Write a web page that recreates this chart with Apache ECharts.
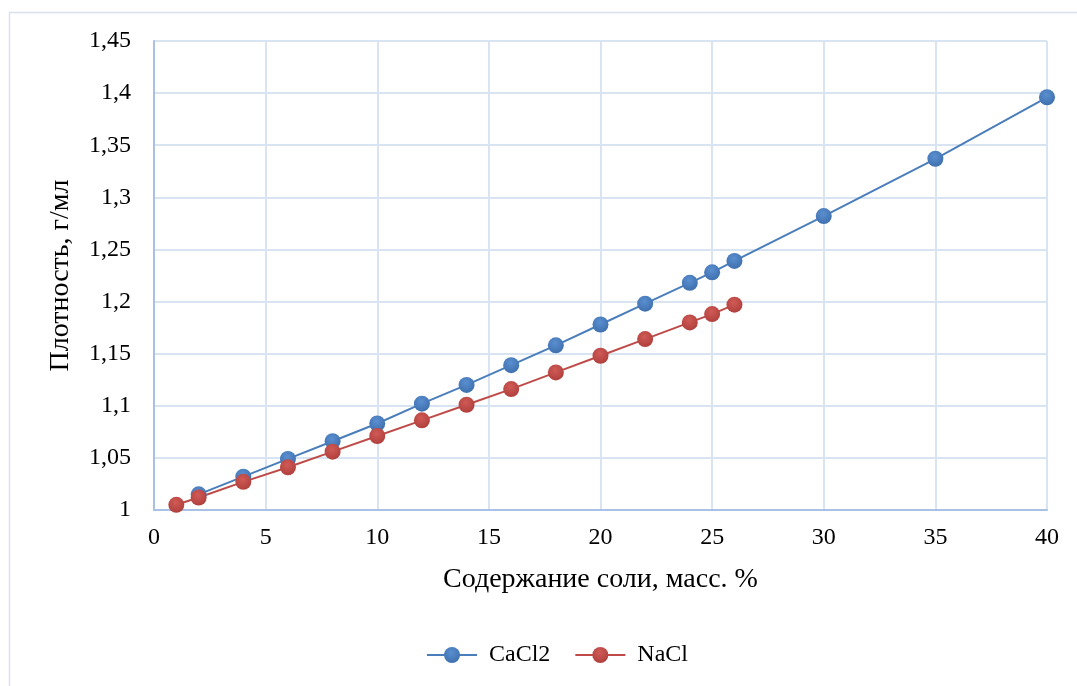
<!DOCTYPE html>
<html>
<head>
<meta charset="utf-8">
<script src="https://cdn.jsdelivr.net/npm/echarts@6/dist/echarts.min.js"></script>
<style>
  html, body { margin: 0; padding: 0; background: #fff; }
  #chart { width: 1077px; height: 686px; }
</style>
</head>
<body>
<div id="chart"></div>
<script>
// содержание соли, масс. %
const cacl2X = [2, 4, 6, 8, 10, 12, 14, 16, 18, 20, 22, 24, 25, 26, 30, 35, 40];
const cacl2Y = [1.015, 1.032, 1.049, 1.066, 1.083, 1.102, 1.120, 1.139, 1.158, 1.178, 1.198, 1.218, 1.228, 1.239, 1.282, 1.337, 1.396];
const naclX = [1, 2, 4, 6, 8, 10, 12, 14, 16, 18, 20, 22, 24, 25, 26];
const naclY = [1.005, 1.012, 1.027, 1.041, 1.056, 1.071, 1.086, 1.101, 1.116, 1.132, 1.148, 1.164, 1.180, 1.188, 1.197];

const fontFamily = '"Liberation Serif", "Times New Roman", serif';

function pairs(xs, ys) {
  return xs.map((x, i) => [x, ys[i]]);
}

// маркеры с лёгким объёмом, как в Excel
function ball(light, base) {
  return new echarts.graphic.RadialGradient(0.45, 0.35, 0.65, [
    { offset: 0, color: light },
    { offset: 1, color: base }
  ]);
}

const chart = echarts.init(document.getElementById('chart'));
chart.setOption({
  animation: false,
  textStyle: { fontFamily: fontFamily },
  graphic: [{
    type: 'rect',
    shape: { x: 9.5, y: 12.5, width: 1100, height: 700 },
    style: { fill: 'none', stroke: '#d9e1ee', lineWidth: 1.5 },
    silent: true
  }],
  grid: {
    left: 154,
    right: 30,
    top: 41,
    bottom: 176
  },
  legend: {
    bottom: 14,
    left: 421,
    itemWidth: 50,
    itemHeight: 20,
    itemGap: 24,
    textStyle: { fontFamily: fontFamily, fontSize: 24, color: '#000', padding: [0, 0, 0, 7] },
    data: ['CaCl2', 'NaCl']
  },
  xAxis: {
    type: 'value',
    min: 0,
    max: 40,
    interval: 5,
    name: 'Содержание соли, масс. %',
    nameLocation: 'middle',
    nameGap: 56,
    nameTextStyle: { fontFamily: fontFamily, fontSize: 28, color: '#000' },
    axisLine: { show: true, onZero: false, lineStyle: { color: '#a9c1e4', width: 2 } },
    axisTick: { show: false },
    axisLabel: { color: '#000', fontSize: 24, margin: 16, fontFamily: fontFamily },
    splitLine: { show: true, lineStyle: { color: '#d9e4f2', width: 2 } }
  },
  yAxis: {
    type: 'value',
    min: 1,
    max: 1.45,
    interval: 0.05,
    name: 'Плотность, г/мл',
    nameLocation: 'middle',
    nameGap: 79,
    nameTextStyle: { fontFamily: fontFamily, fontSize: 28, color: '#000' },
    axisLine: { show: true, lineStyle: { color: '#a9c1e4', width: 2 } },
    axisTick: { show: false },
    axisLabel: {
      color: '#000',
      fontSize: 24,
      margin: 23,
      fontFamily: fontFamily,
      formatter: function (v) {
        return String(Math.round(v * 100) / 100).replace('.', ',');
      }
    },
    splitLine: { show: true, lineStyle: { color: '#d9e4f2', width: 2 } }
  },
  series: [{
    name: 'CaCl2',
    type: 'line',
    symbol: 'circle',
    symbolSize: 16,
    lineStyle: { color: '#4a7ebb', width: 2 },
    itemStyle: { color: ball('#5a8fd0', '#3f70ae') },
    data: pairs(cacl2X, cacl2Y)
  }, {
    name: 'NaCl',
    type: 'line',
    symbol: 'circle',
    symbolSize: 16,
    lineStyle: { color: '#be4b48', width: 2 },
    itemStyle: { color: ball('#d05a56', '#b0403d') },
    data: pairs(naclX, naclY)
  }]
});
</script>
</body>
</html>
